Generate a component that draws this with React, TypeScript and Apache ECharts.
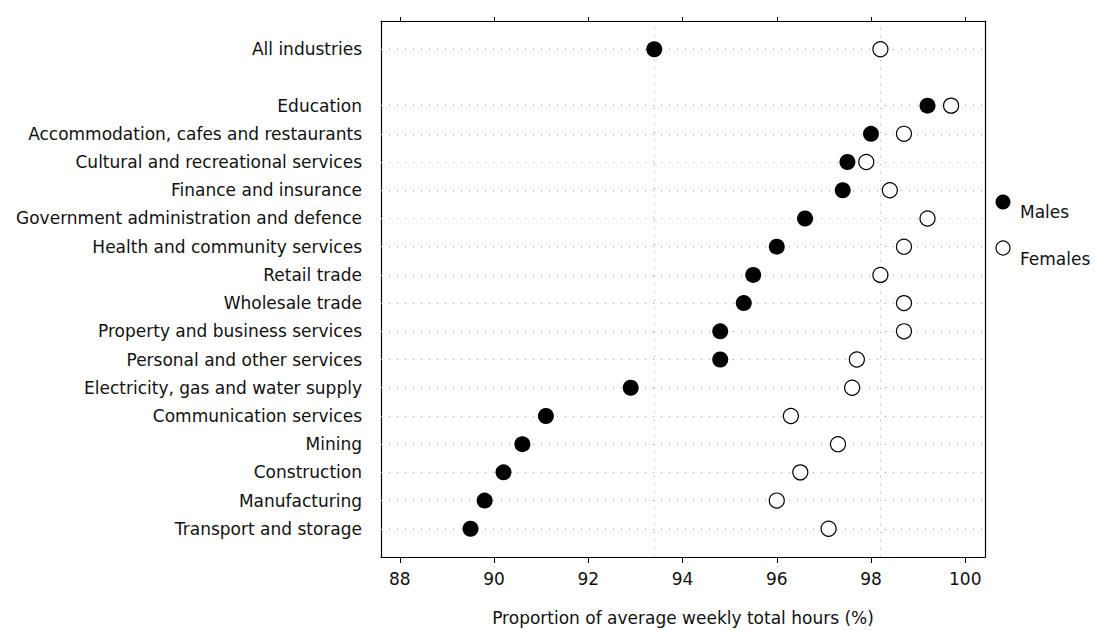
import React, { useEffect, useRef } from "react";
import * as echarts from "echarts";

const industries = [
  "All industries",
  "Education",
  "Accommodation, cafes and restaurants",
  "Cultural and recreational services",
  "Finance and insurance",
  "Government administration and defence",
  "Health and community services",
  "Retail trade",
  "Wholesale trade",
  "Property and business services",
  "Personal and other services",
  "Electricity, gas and water supply",
  "Communication services",
  "Mining",
  "Construction",
  "Manufacturing",
  "Transport and storage",
];

const males = [93.4, 99.2, 98.0, 97.5, 97.4, 96.6, 96.0, 95.5, 95.3, 94.8, 94.8, 92.9, 91.1, 90.6, 90.2, 89.8, 89.5];
const females = [98.2, 99.7, 98.7, 97.9, 98.4, 99.2, 98.7, 98.2, 98.7, 98.7, 97.7, 97.6, 96.3, 97.3, 96.5, 96.0, 97.1];

const xTicks = [88, 90, 92, 94, 96, 98, 100];

// row position: All industries on top, then a blank row, then the rest
const rowPos = (i: number) => (i === 0 ? 18 : 17 - i);

export default function App() {
  const ref = useRef<HTMLDivElement>(null);
  useEffect(() => {
    if (!ref.current) return;
    const chart = echarts.init(ref.current, null, { renderer: "svg" });
    const labelByPos: Record<number, string> = {};
    industries.forEach((n, i) => (labelByPos[rowPos(i)] = n));
    const font = "'DejaVu Sans', 'Liberation Sans', Arial, sans-serif";
    const fs = 17;
    const dotted = { color: "#a8a8a8", width: 1, type: [1, 7] as any };
    chart.setOption({
      animation: false,
      backgroundColor: "#fff",
      textStyle: { fontFamily: font },
      grid: { left: 381, right: 110, top: 21, bottom: 68, containLabel: false },
      xAxis: [
        {
          type: "value",
          min: 87.6,
          max: 100.42,
          interval: 2,
          position: "bottom",
          axisLine: { show: true, onZero: false, lineStyle: { color: "#000", width: 1.2 } },
          axisTick: { show: true, length: 6, lineStyle: { color: "#000" }, customValues: xTicks },
          axisLabel: {
            color: "#111",
            fontSize: fs,
            margin: 13,
            fontFamily: font,
            customValues: xTicks,
          },
          splitLine: { show: false },
          name: "Proportion of average weekly total hours (%)",
          nameLocation: "middle",
          nameGap: 52,
          nameTextStyle: { color: "#111", fontSize: fs, fontFamily: font },
        },
        {
          type: "value",
          min: 87.6,
          max: 100.42,
          position: "top",
          axisLine: { show: true, onZero: false, lineStyle: { color: "#000", width: 1.2 } },
          axisTick: { show: true, length: 4, customValues: xTicks, lineStyle: { color: "#000" } },
          axisLabel: { show: false },
          splitLine: { show: false },
        },
      ],
      yAxis: [
        {
          type: "value",
          min: 0,
          max: 19,
          interval: 1,
          position: "left",
          axisLine: { show: true, onZero: false, lineStyle: { color: "#000", width: 1.2 } },
          axisTick: { show: false },
          axisLabel: {
            color: "#111",
            fontSize: fs,
            margin: 19,
            fontFamily: font,
            formatter: (v: number) => labelByPos[v] || "",
          },
          splitLine: { show: false },
        },
        {
          type: "value",
          min: 0,
          max: 19,
          position: "right",
          axisLine: { show: true, onZero: false, lineStyle: { color: "#000", width: 1.2 } },
          axisTick: { show: false },
          axisLabel: { show: false },
          splitLine: { show: false },
        },
      ],
      series: [
        {
          name: "Males",
          type: "scatter",
          symbol: "circle",
          symbolSize: 16,
          itemStyle: { color: "#000", opacity: 1 },
          z: 3,
          data: males.map((v, i) => [v, rowPos(i)]),
          markLine: {
            silent: true,
            symbol: "none",
            label: { show: false },
            lineStyle: dotted,
            z: 1,
            data: [
              ...industries.map((_, i) => ({ yAxis: rowPos(i) })),
              { xAxis: males[0] },
              { xAxis: females[0] },
            ],
          },
        },
        {
          name: "Females",
          type: "scatter",
          symbol: "circle",
          symbolSize: 15,
          itemStyle: { color: "#fff", borderColor: "#000", borderWidth: 1.2, opacity: 1 },
          z: 3,
          data: females.map((v, i) => [v, rowPos(i)]),
        },
      ],
      graphic: [
        { type: "circle", shape: { cx: 1003, cy: 202, r: 7.5 }, style: { fill: "#000" } },
        {
          type: "text",
          x: 1020,
          y: 212,
          style: { text: "Males", fill: "#111", fontSize: 17, fontFamily: font, verticalAlign: "middle" },
        },
        {
          type: "circle",
          shape: { cx: 1003, cy: 248, r: 7 },
          style: { fill: "#fff", stroke: "#000", lineWidth: 1.2 },
        },
        {
          type: "text",
          x: 1020,
          y: 259,
          style: { text: "Females", fill: "#111", fontSize: 17, fontFamily: font, verticalAlign: "middle" },
        },
      ],
    });
    return () => chart.dispose();
  }, []);
  return (
    <div
      ref={ref}
      style={{ position: "fixed", left: 0, top: 0, width: 1095, height: 631, background: "#fff" }}
    />
  );
}
